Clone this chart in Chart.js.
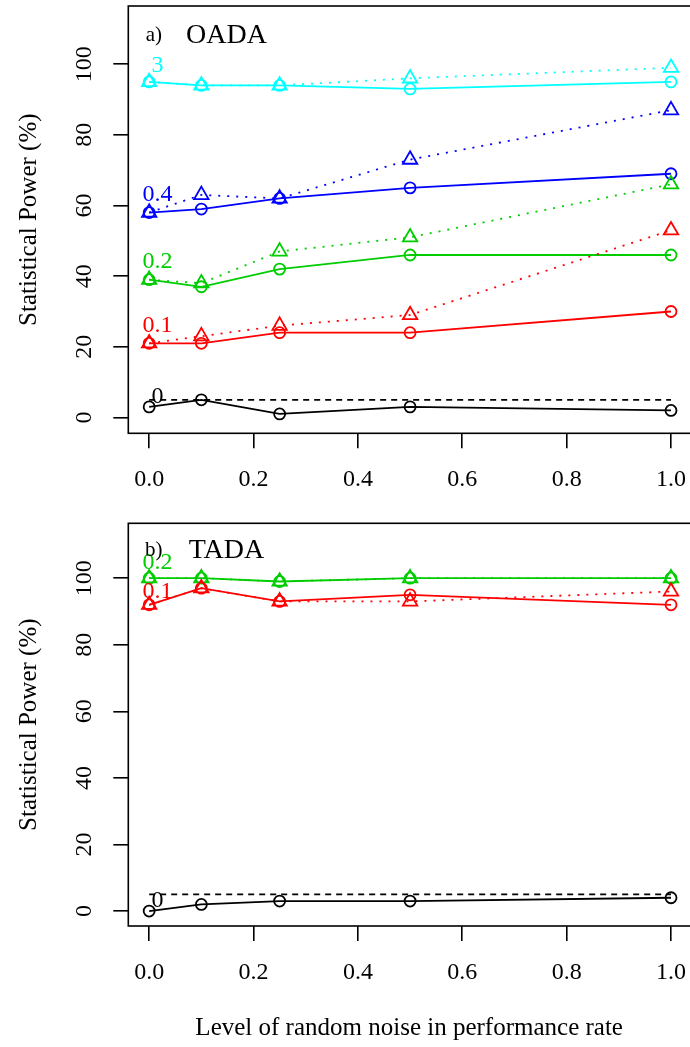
<!DOCTYPE html>
<html>
<head>
<meta charset="utf-8">
<script src="https://cdn.jsdelivr.net/npm/chart.js@4.4.0/dist/chart.umd.min.js"></script>
<style>
  body { margin: 0; background: #fff; }
  #wrap { position: relative; width: 690px; height: 1047px; }
  canvas { position: absolute; left: 0; }
</style>
</head>
<body>
<div id="wrap">
  <canvas id="chart-a" width="690" height="500" style="top:0"></canvas>
  <canvas id="chart-b" width="690" height="547" style="top:500px"></canvas>
</div>
<script>
// noise levels (x) and axis ticks
const noise = [0, 0.1, 0.25, 0.5, 1.0];
const xTicks = [0, 0.2, 0.4, 0.6, 0.8, 1.0];
const yTicks = [0, 20, 40, 60, 80, 100];
const alphaLine = [5, 5];   // nominal 5% line, at x = 0 and x = 1
const alphaX = [0, 1];

// a) OADA - circles (solid) and triangles (dotted) per effect size
const oadaCirc3 = [95, 94, 94, 93, 95];
const oadaTri3 = [95, 94, 94, 96, 99];
const oadaCirc04 = [58, 59, 62, 65, 69];
const oadaTri04 = [58, 63, 62, 73, 87];
const oadaCirc02 = [39, 37, 42, 46, 46];
const oadaTri02 = [39, 38, 47, 51, 66];
const oadaCirc01 = [21, 21, 24, 24, 30];
const oadaTri01 = [21, 23, 26, 29, 53];
const oadaCirc0 = [3, 5, 1, 3, 2];

// b) TADA
const tadaCirc02 = [100, 100, 99, 100, 100];
const tadaTri02 = [100, 100, 99, 100, 100];
const tadaCirc01 = [92, 97, 93, 95, 92];
const tadaTri01 = [92, 97, 93, 93, 96];
const tadaCirc0 = [0, 2, 3, 3, 4];

// effect size labels next to the first point
const oadaLabels = ['3', '0.4', '0.2', '0.1', '0'];
const oadaLabelY = [99.5, 63, 44, 26, 6];
const tadaLabels = ['0.2', '0.1', '0'];
const tadaLabelY = [104.5, 96, 3];
const labelX = 0.016;

const CYAN = '#00FFFF', BLUE = '#0000FF', GREEN = '#00CD00', RED = '#FF0000', BLACK = '#000000';
const SERIF = "'Liberation Serif', 'DejaVu Serif', serif";

Chart.defaults.font.family = SERIF;
Chart.defaults.color = '#000';

function pts(ys) {
    return ys.map((y, i) => ({ x: noise[i], y: y }));
}

function solid(ys, color) {
    return {
        data: pts(ys), borderColor: color, borderWidth: 1.8,
        pointStyle: 'circle', pointRadius: 5.5, pointBorderWidth: 1.8,
        pointBorderColor: color, pointBackgroundColor: 'rgba(0,0,0,0)'
    };
}

function dotted(ys, color) {
    return {
        data: pts(ys), borderColor: color, borderWidth: 1.8, borderDash: [2, 7],
        pointStyle: 'triangle', pointRadius: 8.3, pointBorderWidth: 1.8,
        pointBorderColor: color, pointBackgroundColor: 'rgba(0,0,0,0)'
    };
}

function alphaSet() {
    return {
        data: alphaX.map((x, i) => ({ x: x, y: alphaLine[i] })),
        borderColor: BLACK, borderWidth: 1.8, borderDash: [6, 5], pointRadius: 0
    };
}

// box round the plot region, effect size labels and panel title
const rBox = {
    id: 'rbox',
    afterDraw(chart, args, opts) {
        const ctx = chart.ctx;
        const a = chart.chartArea;
        const x = chart.scales.x, y = chart.scales.y;
        ctx.save();
        ctx.strokeStyle = '#000';
        ctx.lineWidth = 1.6;
        ctx.strokeRect(a.left, a.top, x.getPixelForValue(1.04) - a.left, a.bottom - a.top);

        ctx.textAlign = 'center';
        ctx.textBaseline = 'middle';
        ctx.font = '24px ' + SERIF;
        opts.labels.forEach((t, i) => {
            ctx.fillStyle = opts.colors[i];
            ctx.fillText(t, x.getPixelForValue(labelX), y.getPixelForValue(opts.labelY[i]));
        });

        ctx.fillStyle = '#000';
        ctx.font = '21px ' + SERIF;
        ctx.fillText(opts.tag, x.getPixelForValue(0.009), y.getPixelForValue(108.2));
        ctx.font = '28px ' + SERIF;
        ctx.fillText(opts.title, x.getPixelForValue(0.148), y.getPixelForValue(108.2));
        ctx.restore();
    }
};

function makeOptions(padTop, xHeight, showXTitle, box) {
    return {
        responsive: false,
        animation: false,
        events: [],
        layout: { padding: { top: padTop, left: 0, right: 0, bottom: 0 }, autoPadding: false },
        elements: { line: { tension: 0 } },
        plugins: { legend: { display: false }, tooltip: { enabled: false }, rbox: box },
        scales: {
            x: {
                type: 'linear', min: -0.04, max: 1.0364,
                afterBuildTicks: s => { s.ticks = xTicks.map(v => ({ value: v })); },
                afterFit: s => { s.height = xHeight; s.paddingLeft = 0; s.paddingRight = 0; },
                ticks: { font: { size: 24 }, padding: 17, maxRotation: 0, callback: v => v.toFixed(1) },
                grid: { drawOnChartArea: false, drawTicks: true, tickLength: 15, color: '#000', lineWidth: 1.6 },
                border: { display: false },
                title: {
                    display: showXTitle, text: 'Level of random noise in performance rate',
                    font: { size: 25 }, padding: { top: 0, bottom: 4 }
                }
            },
            y: {
                type: 'linear', min: -4.48, max: 116.48,
                afterBuildTicks: s => { s.ticks = yTicks.map(v => ({ value: v })); },
                afterFit: s => { s.width = 128.3; s.paddingTop = 0; s.paddingBottom = 0; },
                ticks: { font: { size: 24 }, padding: 11, minRotation: 90, maxRotation: 90, crossAlign: 'center' },
                grid: { drawOnChartArea: false, drawTicks: true, tickLength: 15, color: '#000', lineWidth: 1.6 },
                border: { display: false },
                title: {
                    display: true, text: 'Statistical Power (%)',
                    font: { size: 25 }, padding: { top: 14, bottom: 0 }
                }
            }
        }
    };
}

new Chart(document.getElementById('chart-a'), {
    type: 'line',
    data: {
        datasets: [
            solid(oadaCirc0, BLACK), alphaSet(),
            solid(oadaCirc01, RED), dotted(oadaTri01, RED),
            solid(oadaCirc02, GREEN), dotted(oadaTri02, GREEN),
            solid(oadaCirc04, BLUE), dotted(oadaTri04, BLUE),
            solid(oadaCirc3, CYAN), dotted(oadaTri3, CYAN)
        ]
    },
    options: makeOptions(6, 66.7, false, {
        labels: oadaLabels, labelY: oadaLabelY, colors: [CYAN, BLUE, GREEN, RED, BLACK],
        tag: 'a)', title: 'OADA'
    }),
    plugins: [rBox]
});

new Chart(document.getElementById('chart-b'), {
    type: 'line',
    data: {
        datasets: [
            solid(tadaCirc0, BLACK), alphaSet(),
            solid(tadaCirc01, RED), dotted(tadaTri01, RED),
            solid(tadaCirc02, GREEN), dotted(tadaTri02, GREEN)
        ]
    },
    options: makeOptions(23.3, 121, true, {
        labels: tadaLabels, labelY: tadaLabelY, colors: [GREEN, RED, BLACK],
        tag: 'b)', title: 'TADA'
    }),
    plugins: [rBox]
});
</script>
</body>
</html>
